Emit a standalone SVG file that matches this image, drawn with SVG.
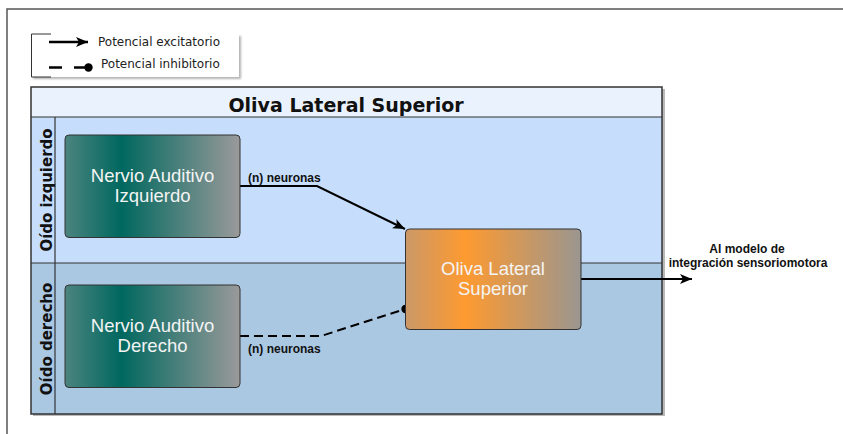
<svg xmlns="http://www.w3.org/2000/svg" width="843" height="434" viewBox="0 0 843 434">
  <style>
    .frame { fill: none; stroke: #555; stroke-width: 1.5; }
    .pool-border { fill: none; stroke: #333; stroke-width: 1.5; }
    .sep { stroke: #333; stroke-width: 1.2; }
    .title { font-family: "DejaVu Sans", sans-serif; font-weight: bold; font-size: 19px; fill: #111; }
    .lane-label { font-family: "DejaVu Sans", sans-serif; font-weight: bold; font-size: 15px; fill: #111; }
    .node-box { stroke: #333; stroke-width: 1; }
    .node-text { font-family: "Liberation Sans", Arial, sans-serif; font-size: 18.5px; fill: #f4f4f4; text-anchor: middle; }
    .edge { fill: none; stroke: #000; stroke-width: 2; }
    .dashed { stroke-dasharray: 9 5; }
    .edge-label { font-family: "Liberation Sans", Arial, sans-serif; font-weight: bold; font-size: 12px; fill: #111; }
    .legend-text { font-family: "DejaVu Sans", sans-serif; font-size: 12px; fill: #222; }
  </style>
  <defs>
    <linearGradient id="gradNerve" x1="0" y1="0" x2="1" y2="0">
      <stop offset="0" stop-color="#4c847f"/>
      <stop offset="0.32" stop-color="#00685f"/>
      <stop offset="1" stop-color="#9a9a9a"/>
    </linearGradient>
    <linearGradient id="gradOlive" x1="0" y1="0" x2="1" y2="0">
      <stop offset="0" stop-color="#cb9868"/>
      <stop offset="0.34" stop-color="#fe9a30"/>
      <stop offset="1" stop-color="#9a9690"/>
    </linearGradient>
    <marker id="arrow" markerUnits="userSpaceOnUse" markerWidth="14" markerHeight="12" refX="12" refY="5" orient="auto">
      <path d="M0,0 L12,5 L0,10 L3,5 Z" fill="#000"/>
    </marker>
    <filter id="shadow" x="-5%" y="-10%" width="115%" height="130%">
      <feGaussianBlur in="SourceAlpha" stdDeviation="1.2"/>
      <feOffset dx="2" dy="2" result="b"/>
      <feComponentTransfer><feFuncA type="linear" slope="0.3"/></feComponentTransfer>
      <feMerge><feMergeNode/><feMergeNode in="SourceGraphic"/></feMerge>
    </filter>
  </defs>

  <!-- outer frame (top and left edges only) -->
  <path class="frame" d="M7,434 V9 H843"/>

  <!-- legend -->
  <g id="legend">
    <rect x="31" y="34" width="208" height="43" fill="#fff" filter="url(#shadow)"/>
    <path d="M51,34 H31.5 V77 H51" fill="none" stroke="#333" stroke-width="1"/>
    <line x1="49" y1="42" x2="88" y2="42" stroke="#000" stroke-width="2.6" marker-end="url(#arrow)"/>
    <text class="legend-text" x="98" y="46">Potencial excitatorio</text>
    <line x1="49" y1="67.5" x2="85" y2="67.5" stroke="#000" stroke-width="2.6" stroke-dasharray="13 12"/>
    <circle cx="88.5" cy="67.5" r="4.2" fill="#000"/>
    <text class="legend-text" x="101" y="68">Potencial inhibitorio</text>
  </g>

  <!-- pool with two lanes -->
  <g id="pool">
    <rect x="33" y="89" width="632" height="327" fill="#8a8a8a" opacity="0.6"/>
    <rect x="31" y="87" width="631" height="30" fill="#eaf2fe"/>
    <rect x="31" y="117" width="631" height="146" fill="#c6defb"/>
    <rect x="31" y="263" width="631" height="151" fill="#abc8e3"/>
    <line class="sep" x1="31" y1="117" x2="662" y2="117"/>
    <line class="sep" x1="31" y1="263" x2="662" y2="263"/>
    <line class="sep" x1="55" y1="117" x2="55" y2="414"/>
    <rect class="pool-border" x="31" y="87" width="631" height="327"/>
    <text class="title" x="346" y="111.5" text-anchor="middle">Oliva Lateral Superior</text>
  </g>

  <g id="lane-left">
    <text class="lane-label" transform="translate(52,190) rotate(-90)" text-anchor="middle">Oído izquierdo</text>
  </g>
  <g id="lane-right">
    <text class="lane-label" transform="translate(52,339) rotate(-90)" text-anchor="middle">Oído derecho</text>
  </g>

  <!-- connectors -->
  <g id="connectors">
    <polyline class="edge" points="240,186 317,186 405,229" marker-end="url(#arrow)"/>
    <text class="edge-label" x="248" y="182">(n) neuronas</text>
    <polyline class="edge dashed" points="240,336 321,336 402,310"/>
    <circle cx="405.5" cy="309" r="4.2" fill="#000"/>
    <text class="edge-label" x="248" y="352.5">(n) neuronas</text>
    <line class="edge" x1="581" y1="279" x2="692" y2="279" marker-end="url(#arrow)"/>
    <text class="edge-label" x="747" y="252.5" text-anchor="middle" font-size="12.4">Al modelo de</text>
    <text class="edge-label" x="748" y="267" text-anchor="middle" font-size="12.4">integración sensoriomotora</text>
  </g>

  <!-- nodes -->
  <g id="nervio-izquierdo">
    <rect class="node-box" x="65" y="135" width="175" height="102.5" rx="4" fill="url(#gradNerve)"/>
    <text class="node-text" x="152.5" y="181.5">Nervio Auditivo</text>
    <text class="node-text" x="152.5" y="202">Izquierdo</text>
  </g>
  <g id="nervio-derecho">
    <rect class="node-box" x="65" y="285" width="175" height="102.5" rx="4" fill="url(#gradNerve)"/>
    <text class="node-text" x="152.5" y="331.5">Nervio Auditivo</text>
    <text class="node-text" x="152.5" y="352">Derecho</text>
  </g>
  <g id="oliva-lateral-superior">
    <rect class="node-box" x="405.5" y="229" width="175.5" height="100.5" rx="4" fill="url(#gradOlive)"/>
    <text class="node-text" x="493" y="274.5">Oliva Lateral</text>
    <text class="node-text" x="493" y="295">Superior</text>
  </g>
</svg>
